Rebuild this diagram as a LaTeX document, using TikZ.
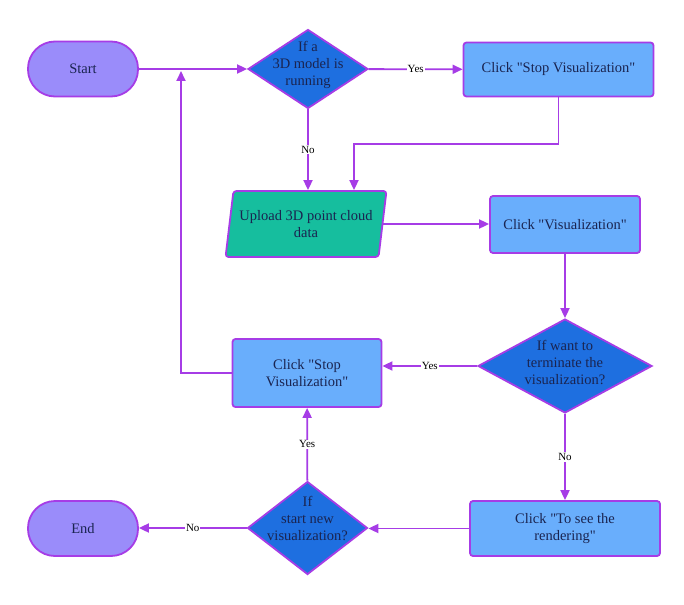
\documentclass[tikz,border=0pt]{standalone}
\usepackage{fontspec}
\setmainfont{Liberation Serif}[Ligatures=TeXOff]
\usetikzlibrary{shapes.geometric,arrows.meta}
\definecolor{edgec}{HTML}{A63CE6}
\definecolor{termc}{HTML}{9A8CFA}
\definecolor{decc}{HTML}{1E6FE0}
\definecolor{procc}{HTML}{69AEFC}
\definecolor{ioc}{HTML}{16BE9E}
\definecolor{txtc}{HTML}{1A2450}
\begin{document}
\begin{tikzpicture}[x=1pt,y=-1pt,
  txt/.style={text=txtc,font=\fontsize{14.5}{17}\selectfont,align=center},
  base/.style={draw=edgec,line width=1.8pt,txt,inner sep=0pt},
  term/.style={base,fill=termc,rounded corners=27pt,minimum width=110pt,minimum height=55pt},
  proc/.style={base,fill=procc,rounded corners=3pt},
  dec/.style={base,diamond,fill=decc},
  io/.style={base,trapezium,trapezium left angle=75,trapezium right angle=105,
    trapezium stretches=true,fill=ioc,rounded corners=3pt},
  flow/.style={draw=edgec,line width=1.8pt,-{Triangle[length=10pt,width=9pt]}},
  lbl/.style={fill=white,inner sep=1pt,font=\fontsize{11}{13}\selectfont,text=black}]
\useasboundingbox[fill=white] (0,0) rectangle (684,604);

\node[term] (start) at (83,69) {Start};
\node[dec,minimum width=120pt,minimum height=79pt,
  label={[txt,yshift=4pt]center:If a\\3D model is\\running}] (d1) at (308,69) {};
\node[proc,minimum width=190pt,minimum height=54pt] (stop1) at (558.5,69.5) {Click "Stop Visualization"};
\node[io,minimum width=161pt,minimum height=66pt] (para) at (306,224) {Upload 3D point cloud\\data};
\node[proc,minimum width=150pt,minimum height=57pt] (vis) at (565,224.5) {Click "Visualization"};
\node[dec,minimum width=174pt,minimum height=94pt,
  label={[txt,yshift=4pt]center:If want to\\terminate the\\visualization?}] (d2) at (565,366) {};
\node[proc,minimum width=149pt,minimum height=68pt] (stop2) at (307,373) {Click "Stop\\Visualization"};
\node[dec,minimum width=120pt,minimum height=93pt,
  label={[txt,yshift=10pt]center:If\\start new\\visualization?}] (d3) at (307.5,528) {};
\node[term] (end) at (83,528.5) {End};
\node[proc,minimum width=190pt,minimum height=55pt] (render) at (565,528.5) {Click "To see the\\rendering"};

\coordinate (j1) at (354,144);
\coordinate (j2) at (181,71);

\draw[flow] (start) -- (d1);
\draw[flow] (d1) -- node[lbl]{Yes} (stop1);
\draw[flow] (d1.south) -- node[lbl]{No} (d1.south |- para.north);
\draw[flow] (stop1.south) |- (j1) -- (j1 |- para.north);
\draw[flow] (para.east) -- (para.east -| vis.west);
\draw[flow] (vis) -- (d2);
\draw[flow] (d2.west) -- node[lbl]{Yes} (d2.west -| stop2.east);
\draw[flow] (d2) -- node[lbl]{No} (render);
\draw[flow] (render.west) -- (render.west -| d3.east);
\draw[flow] (d3) -- node[lbl]{Yes} (stop2);
\draw[flow] (d3.west) -- node[lbl]{No} (d3.west -| end.east);
\draw[flow] (stop2.west) -| (j2);
\end{tikzpicture}
\end{document}
